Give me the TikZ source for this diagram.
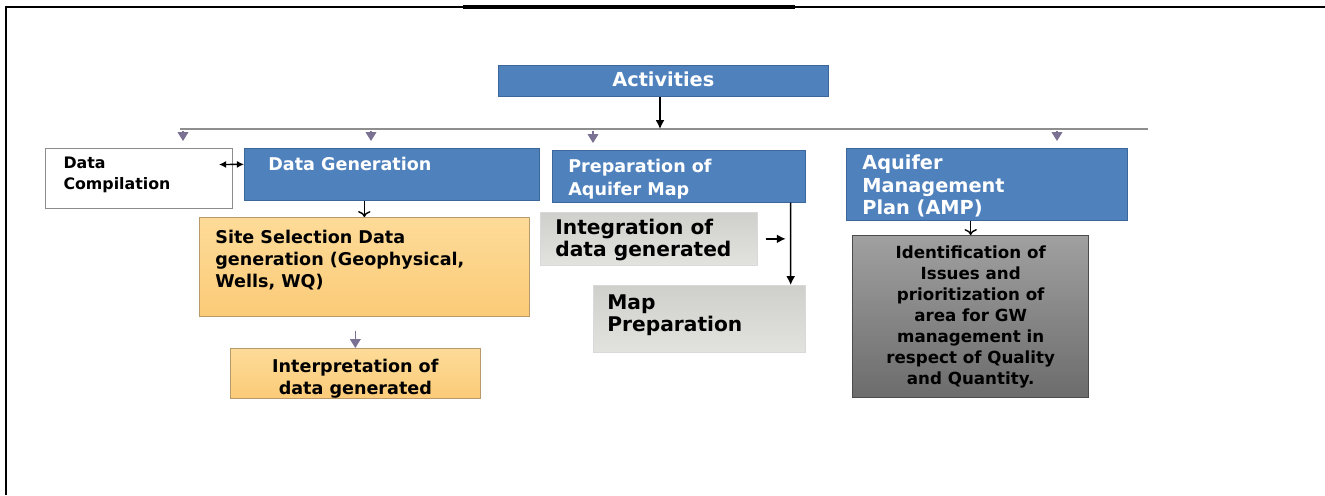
\documentclass[tikz,border=0pt]{standalone}
\usepackage{fontspec}
\setmainfont{DejaVu Sans}
\usepackage{tikz}
\usetikzlibrary{calc,arrows.meta}
\definecolor{boxblue}{HTML}{4F81BD}
\definecolor{boxblueline}{HTML}{3B679B}
\definecolor{orangetop}{HTML}{FDDB98}
\definecolor{orangebot}{HTML}{FBCB78}
\definecolor{orangeline}{HTML}{B89A6A}
\definecolor{greytop}{HTML}{CFCFCB}
\definecolor{greybot}{HTML}{E2E2DE}
\definecolor{darktop}{HTML}{A0A0A0}
\definecolor{darkbot}{HTML}{6C6C6C}
\definecolor{tickpurple}{HTML}{7B7193}
\definecolor{busgrey}{HTML}{8E8E8E}
% box with its text set from the top left corner
\newcommand{\tikzBoxNode}[8]{
  \node[#2,anchor=north west,inner xsep=#6,inner ysep=#7] (#1) at (#3)
    {\parbox[t][\dimexpr#5-#7-#7\relax][t]{\dimexpr#4-#6-#6\relax}{#8}};
}

\begin{document}
\begin{tikzpicture}[x=0.02cm,y=-0.02cm,font=\bfseries,
  bluebox/.style={draw=boxblueline,fill=boxblue,text=white},
  whitebox/.style={draw=black!45,fill=white,semithick},
  orangebox/.style={draw=orangeline,top color=orangetop,bottom color=orangebot},
  greybox/.style={draw=black!15,top color=greytop,bottom color=greybot},
  darkbox/.style={draw=black!70,thick,top color=darktop,bottom color=darkbot},
  blk/.style={->,thick},
  tri/.style={-{Latex[length=5pt,width=5pt]},thick},
  tick/.style={-{Triangle[length=5pt,width=6pt]},draw=tickpurple,thick}]
  \useasboundingbox (0,0) rectangle (1325,495);
  % frame
  \draw[thick] (6,495) -- (6,7) -- (1325,7);
  \draw[line width=2.2pt] (463,7) -- (795,7);

  \tikzBoxNode{act}{bluebox}{498,65}{6.6cm}{0.62cm}{0.1cm}{0.12cm}{\centering\fontsize{11}{13}\selectfont Activities}
  \tikzBoxNode{dc}{whitebox}{45,148}{3.74cm}{1.2cm}{0.36cm}{0.16cm}{\raggedright\fontsize{9}{12}\selectfont Data\\Compilation}
  \tikzBoxNode{dg}{bluebox}{244,148}{5.9cm}{1.04cm}{0.48cm}{0.18cm}{\raggedright\fontsize{10}{12}\selectfont Data Generation}
  \tikzBoxNode{pam}{bluebox}{552,150}{5.06cm}{1.04cm}{0.32cm}{0.18cm}{\raggedright\fontsize{10}{13}\selectfont Preparation of\\Aquifer Map}
  \tikzBoxNode{amp}{bluebox}{846,148}{5.62cm}{1.44cm}{0.32cm}{0.13cm}{\raggedright\fontsize{11}{12.8}\selectfont Aquifer\\Management\\Plan (AMP)}
  \tikzBoxNode{site}{orangebox}{199,217}{6.6cm}{1.98cm}{0.32cm}{0.25cm}{\raggedright\fontsize{10}{12.5}\selectfont Site Selection Data\\generation (Geophysical,\\Wells, WQ)}
  \tikzBoxNode{interp}{orangebox}{230,348}{5.0cm}{1.0cm}{0.2cm}{0.22cm}{\centering\fontsize{10}{12.5}\selectfont Interpretation of\\data generated}
  \tikzBoxNode{integ}{greybox}{540,212}{4.34cm}{1.06cm}{0.3cm}{0.13cm}{\raggedright\fontsize{11.5}{12.5}\selectfont Integration of\\data generated}
  \tikzBoxNode{mapprep}{greybox}{593,285}{4.24cm}{1.34cm}{0.28cm}{0.18cm}{\raggedright\fontsize{11.5}{12.5}\selectfont Map\\Preparation}
  \tikzBoxNode{ident}{darkbox}{852,235}{4.72cm}{3.24cm}{0.2cm}{0.2cm}{\centering\fontsize{9.5}{12}\selectfont Identification of\\Issues and\\prioritization of\\area for GW\\management in\\respect of Quality\\and Quantity.}

  % bus under Activities
  \coordinate (busL) at (180,129);
  \coordinate (busR) at (1148,129);
  \draw[busgrey,line width=1.2pt] (busL) -- (busR);
  \draw[blk,-{Latex[length=5pt,width=5pt]}] (act.south -| 660,0) -- (660,129);
  \foreach \n/\x in {dc/183,dg/371,pam/593,amp/1057}{
    \coordinate (t\n) at (\x,131);
    \draw[tick,shorten >=0.14cm] (t\n) -- (t\n |- \n.north);
  }

  \draw[{Latex[length=4pt,width=4pt]}-{Latex[length=4pt,width=4pt]},thick] ([shift={(-14,-14)}]dc.east) -- ([shift={(0,-10)}]dg.west);
  \draw[blk] (site.north |- dg.south) -- (site.north);
  \draw[tick,shorten <=0.28cm] (interp.north |- site.south) -- (interp.north);
  \draw[tri] ([xshift=-0.3cm]pam.south east) -- ([xshift=-0.3cm]mapprep.north east);
  \draw[tri,shorten <=0.16cm] (integ.east) -- ([xshift=0.56cm]integ.east);
  \draw[blk] (ident.north |- amp.south) -- (ident.north);
\end{tikzpicture}
\end{document}
